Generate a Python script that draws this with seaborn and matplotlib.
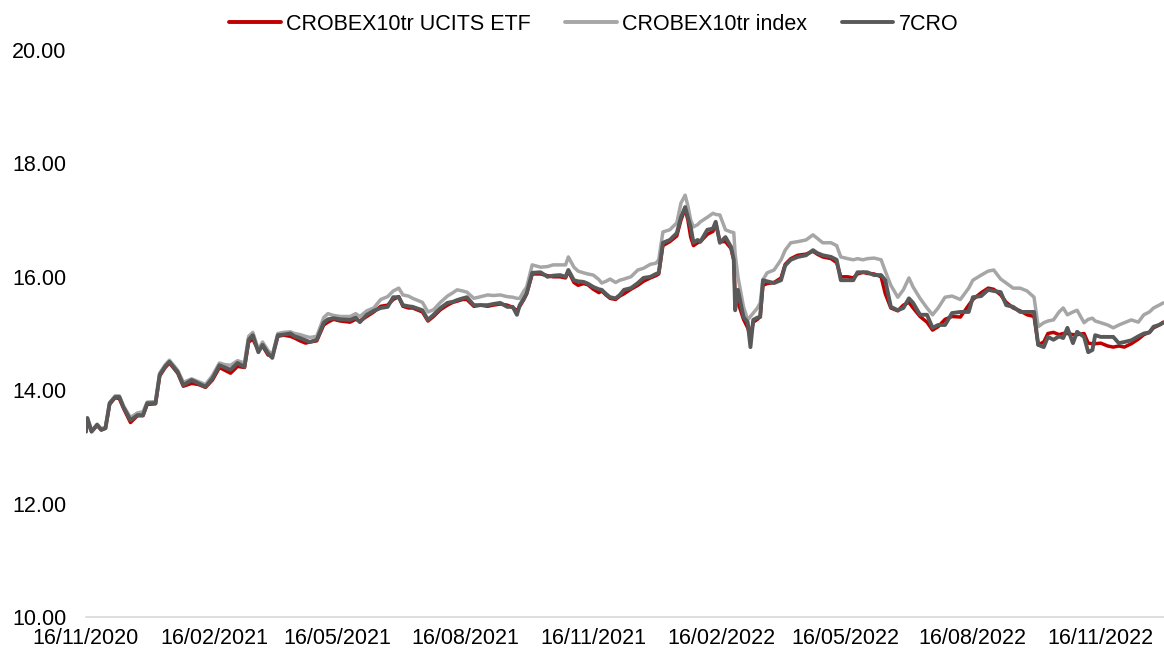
import pandas as pd
import matplotlib.pyplot as plt
import matplotlib.dates as mdates
import seaborn as sns

# ------------------------------
# Data
# ------------------------------
start = "2020-11-16"
# days since start date
day = [0, 1, 4, 8, 11, 14, 17, 21, 24, 27, 32, 37, 41, 44, 50, 53, 57, 60, 66, 70,
       76, 81, 86, 91, 96, 100, 104, 109, 114, 117, 120, 124, 127, 131, 134, 138, 142, 147, 150, 154,
       158, 161, 166, 171, 174, 178, 183, 190, 194, 197, 202, 207, 212, 217, 221, 225, 228, 232, 235, 242,
       246, 250, 255, 260, 264, 267, 271, 274, 279, 284, 289, 293, 298, 303, 307, 310, 312, 315, 317, 321,
       327, 332, 336, 341, 345, 347, 351, 354, 358, 361, 365, 369, 371, 374, 377, 381, 384, 387, 392, 397,
       401, 406, 410, 412, 415, 420, 425, 428, 431, 433, 435, 437, 440, 442, 447, 451, 453, 456, 460, 464,
       466, 467, 469, 473, 476, 478, 480, 483, 485, 487, 490, 495, 500, 503, 507, 512, 518, 523, 526, 530,
       536, 540, 543, 548, 552, 555, 559, 562, 567, 572, 575, 579, 584, 588, 592, 595, 600, 605, 609, 613,
       618, 623, 629, 635, 638, 644, 649, 653, 658, 662, 667, 672, 677, 682, 685, 689, 692, 696, 700, 703,
       706, 710, 713, 718, 721, 724, 726, 730, 735, 739, 743, 747, 752, 757, 761, 765, 768, 772, 775]

cro7 = [13.27, 13.51, 13.27, 13.39, 13.30, 13.33, 13.77, 13.88, 13.88, 13.70, 13.47, 13.56, 13.56, 13.77, 13.77, 14.27, 14.42, 14.50, 14.32, 14.09,
        14.18, 14.12, 14.06, 14.21, 14.44, 14.40, 14.36, 14.48, 14.41, 14.89, 14.97, 14.67, 14.80, 14.65, 14.57, 14.97, 14.98, 15.00, 14.95, 14.92,
        14.88, 14.85, 14.89, 15.19, 15.25, 15.27, 15.25, 15.24, 15.28, 15.20, 15.33, 15.40, 15.45, 15.47, 15.64, 15.64, 15.50, 15.48, 15.47, 15.41,
        15.24, 15.33, 15.45, 15.54, 15.56, 15.59, 15.62, 15.64, 15.50, 15.50, 15.50, 15.52, 15.54, 15.47, 15.47, 15.33, 15.50, 15.62, 15.71, 16.07,
        16.08, 16.00, 16.02, 16.03, 16.00, 16.12, 15.94, 15.92, 15.91, 15.88, 15.82, 15.78, 15.77, 15.70, 15.64, 15.62, 15.68, 15.77, 15.80, 15.89,
        15.98, 16.00, 16.05, 16.07, 16.60, 16.65, 16.77, 17.05, 17.23, 17.05, 16.88, 16.60, 16.65, 16.62, 16.83, 16.85, 16.97, 16.60, 16.70, 16.53,
        16.30, 15.41, 15.77, 15.29, 15.20, 14.76, 15.24, 15.28, 15.29, 15.94, 15.92, 15.89, 15.94, 16.20, 16.30, 16.35, 16.38, 16.47, 16.42, 16.38,
        16.35, 16.30, 15.94, 15.94, 15.94, 16.08, 16.08, 16.08, 16.03, 16.03, 15.94, 15.47, 15.41, 15.45, 15.62, 15.54, 15.33, 15.33, 15.10, 15.15,
        15.15, 15.36, 15.38, 15.38, 15.64, 15.66, 15.77, 15.75, 15.73, 15.50, 15.47, 15.38, 15.38, 15.38, 14.80, 14.76, 14.94, 14.89, 14.95, 14.92,
        15.10, 14.83, 15.03, 14.94, 14.67, 14.71, 14.97, 14.94, 14.94, 14.94, 14.83, 14.85, 14.88, 14.95, 15.00, 15.02, 15.12, 15.15, 15.19]

index_tr = [13.27, 13.50, 13.28, 13.40, 13.32, 13.35, 13.78, 13.90, 13.90, 13.72, 13.52, 13.60, 13.62, 13.79, 13.80, 14.30, 14.45, 14.53, 14.35, 14.14,
            14.20, 14.15, 14.10, 14.26, 14.48, 14.45, 14.44, 14.52, 14.48, 14.95, 15.02, 14.72, 14.85, 14.70, 14.62, 15.00, 15.02, 15.03, 15.00, 14.98,
            14.95, 14.93, 14.95, 15.28, 15.35, 15.32, 15.30, 15.30, 15.35, 15.30, 15.40, 15.45, 15.60, 15.65, 15.75, 15.80, 15.68, 15.66, 15.62, 15.55,
            15.38, 15.42, 15.55, 15.66, 15.72, 15.77, 15.75, 15.73, 15.62, 15.65, 15.68, 15.67, 15.68, 15.65, 15.64, 15.62, 15.62, 15.75, 15.82, 16.21,
            16.17, 16.18, 16.21, 16.21, 16.21, 16.35, 16.17, 16.10, 16.07, 16.05, 16.03, 15.95, 15.89, 15.92, 15.96, 15.90, 15.94, 15.96, 16.00, 16.12,
            16.15, 16.22, 16.24, 16.30, 16.79, 16.83, 16.95, 17.30, 17.44, 17.25, 17.00, 16.88, 16.92, 16.97, 17.05, 17.12, 17.10, 17.09, 16.83, 16.79,
            16.78, 16.40, 16.00, 15.47, 15.24, 15.30, 15.36, 15.45, 15.54, 15.95, 16.07, 16.12, 16.30, 16.47, 16.60, 16.62, 16.65, 16.74, 16.68, 16.60,
            16.60, 16.55, 16.35, 16.32, 16.30, 16.32, 16.30, 16.32, 16.33, 16.30, 16.10, 15.85, 15.64, 15.77, 15.98, 15.82, 15.62, 15.45, 15.33, 15.45,
            15.64, 15.66, 15.60, 15.80, 15.94, 16.03, 16.10, 16.12, 15.96, 15.89, 15.80, 15.80, 15.75, 15.64, 15.12, 15.19, 15.22, 15.24, 15.38, 15.45,
            15.33, 15.38, 15.41, 15.19, 15.25, 15.27, 15.22, 15.19, 15.15, 15.10, 15.15, 15.19, 15.24, 15.20, 15.33, 15.38, 15.45, 15.50, 15.54]

etf = [13.27, 13.48, 13.27, 13.38, 13.30, 13.33, 13.75, 13.87, 13.85, 13.68, 13.43, 13.55, 13.55, 13.75, 13.76, 14.25, 14.40, 14.48, 14.30, 14.07,
       14.12, 14.10, 14.05, 14.18, 14.40, 14.35, 14.30, 14.42, 14.40, 14.85, 14.90, 14.70, 14.78, 14.62, 14.60, 14.95, 14.97, 14.95, 14.92, 14.87,
       14.83, 14.85, 14.87, 15.15, 15.20, 15.25, 15.22, 15.20, 15.25, 15.22, 15.30, 15.38, 15.48, 15.50, 15.60, 15.65, 15.48, 15.45, 15.45, 15.38,
       15.22, 15.30, 15.42, 15.50, 15.55, 15.57, 15.60, 15.60, 15.48, 15.50, 15.48, 15.50, 15.52, 15.50, 15.46, 15.40, 15.48, 15.60, 15.70, 16.05,
       16.05, 16.02, 16.00, 16.00, 15.98, 16.10, 15.90, 15.85, 15.88, 15.86, 15.78, 15.72, 15.75, 15.68, 15.62, 15.60, 15.66, 15.70, 15.78, 15.85,
       15.92, 15.98, 16.02, 16.05, 16.55, 16.62, 16.72, 17.00, 17.20, 17.00, 16.70, 16.55, 16.60, 16.62, 16.75, 16.80, 16.95, 16.62, 16.62, 16.50,
       16.30, 15.60, 15.55, 15.25, 15.10, 14.95, 15.20, 15.25, 15.30, 15.85, 15.88, 15.90, 15.98, 16.22, 16.32, 16.38, 16.40, 16.45, 16.40, 16.35,
       16.32, 16.25, 16.00, 16.00, 15.98, 16.05, 16.08, 16.06, 16.05, 16.00, 15.70, 15.45, 15.40, 15.50, 15.55, 15.45, 15.30, 15.20, 15.06, 15.12,
       15.25, 15.30, 15.29, 15.50, 15.60, 15.72, 15.80, 15.78, 15.68, 15.55, 15.45, 15.40, 15.33, 15.30, 14.80, 14.85, 15.00, 15.02, 14.98, 15.00,
       15.00, 14.98, 14.98, 15.00, 14.83, 14.82, 14.82, 14.83, 14.78, 14.76, 14.78, 14.76, 14.82, 14.90, 14.98, 15.02, 15.10, 15.15, 15.20]

series_names = ["CROBEX10tr UCITS ETF", "CROBEX10tr index", "7CRO"]
series_colors = ["#C00000", "#A6A6A6", "#595959"]
tick_dates = ["2020-11-16", "2021-02-16", "2021-05-16", "2021-08-16", "2021-11-16",
              "2022-02-16", "2022-05-16", "2022-08-16", "2022-11-16"]

dates = pd.Timestamp(start) + pd.to_timedelta(day, unit="D")
df = pd.concat([
    pd.DataFrame({"date": dates, "value": etf, "series": series_names[0]}),
    pd.DataFrame({"date": dates, "value": index_tr, "series": series_names[1]}),
    pd.DataFrame({"date": dates, "value": cro7, "series": series_names[2]}),
])

# ------------------------------
# Plot
# ------------------------------
sns.set_style("white")
plt.rcParams["font.family"] = ["Liberation Sans", "DejaVu Sans"]
plt.rcParams["text.color"] = "black"
plt.rcParams["xtick.color"] = "black"
plt.rcParams["ytick.color"] = "black"

fig = plt.figure(figsize=(11.64, 6.53), dpi=100)
ax = fig.add_axes([86 / 1164, 36 / 653, 1 - 86 / 1164, (617 - 50) / 653])

sns.lineplot(data=df, x="date", y="value", hue="series", hue_order=series_names,
             palette=series_colors, linewidth=2.5, ax=ax, legend=False)
for line in ax.lines[2:]:
    line.set_linewidth(2.8)

ax.set_ylim(10, 20)
ax.set_yticks([10, 12, 14, 16, 18, 20])
ax.yaxis.set_major_formatter(plt.FormatStrFormatter("%.2f"))
ax.set_xlim(pd.Timestamp(start), pd.Timestamp(start) + pd.Timedelta(days=775.5))
ax.set_xticks(pd.to_datetime(tick_dates))
ax.xaxis.set_major_formatter(mdates.DateFormatter("%d/%m/%Y"))
ax.tick_params(axis="both", length=0, labelsize=15.5, labelcolor="black")
ax.tick_params(axis="y", pad=14)
ax.tick_params(axis="x", pad=8)
ax.set_xlabel("")
ax.set_ylabel("")

for side in ["top", "right", "left"]:
    ax.spines[side].set_visible(False)
ax.spines["bottom"].set_color("#D9D9D9")
ax.spines["bottom"].set_linewidth(1.2)

handles = [plt.Line2D([], [], color=c, linewidth=2.8) for c in series_colors]
fig.legend(handles, series_names, loc="upper center", bbox_to_anchor=(0.51, 1.0),
           ncol=3, frameon=False, fontsize=15.5, handlelength=2.4,
           handletextpad=0.25, columnspacing=1.6, borderaxespad=0.25,
           labelcolor="black")

fig.savefig("out.png", dpi=100)
